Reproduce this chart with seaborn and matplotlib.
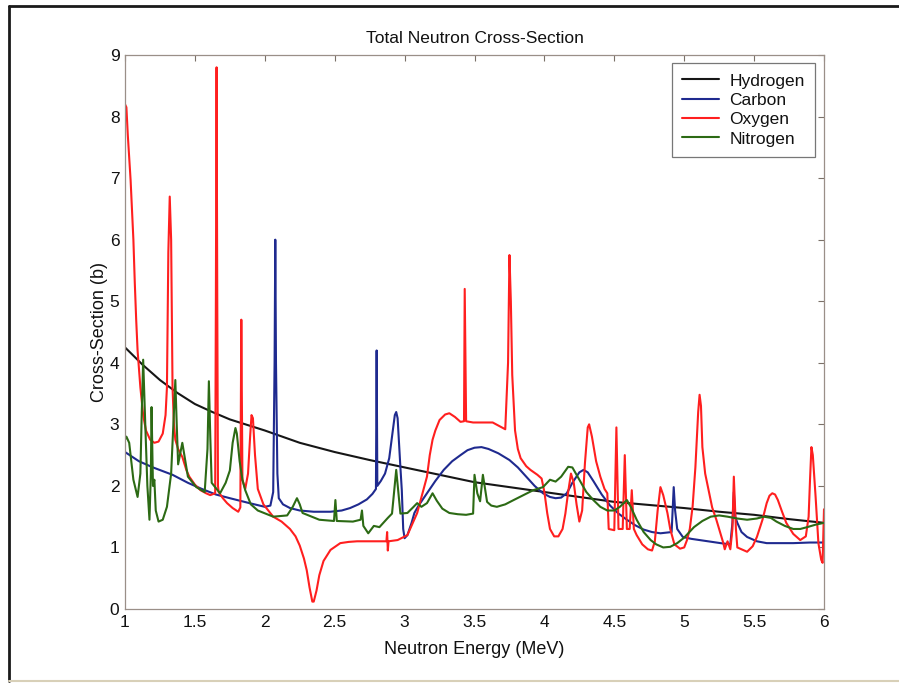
import matplotlib
matplotlib.use("Agg")
import matplotlib.pyplot as plt
from matplotlib.lines import Line2D
import numpy as np
import pandas as pd
import seaborn as sns

# ---------------- data ----------------
title = "Total Neutron Cross-Section"
x_label = "Neutron Energy (MeV)"
y_label = "Cross-Section (b)"
elements = ["Hydrogen", "Carbon", "Oxygen", "Nitrogen"]
x_ticks = [1, 1.5, 2, 2.5, 3, 3.5, 4, 4.5, 5, 5.5, 6]
x_tick_labels = ["1", "1.5", "2", "2.5", "3", "3.5", "4", "4.5", "5", "5.5", "6"]
y_ticks = [0, 1, 2, 3, 4, 5, 6, 7, 8, 9]

hydrogen_E = [1.0, 1.125, 1.25, 1.375, 1.5, 1.625, 1.75, 1.875, 2.0, 2.25, 2.5,
              2.75, 3.0, 3.25, 3.5, 3.75, 4.0, 4.25, 4.5, 4.75, 5.0, 5.25, 5.5,
              5.75, 6.0]
hydrogen_xs = [4.25, 3.97, 3.72, 3.51, 3.33, 3.2, 3.08, 2.99, 2.9, 2.7, 2.55,
               2.42, 2.3, 2.18, 2.06, 1.98, 1.9, 1.82, 1.74, 1.69, 1.64, 1.58, 1.53,
               1.46, 1.4]

carbon_E = [1.0, 1.1, 1.2, 1.34, 1.45, 1.55, 1.65, 1.75, 1.89, 2.0, 2.04, 2.06,
            2.07, 2.075, 2.08, 2.09, 2.1, 2.13, 2.18, 2.25, 2.35, 2.47, 2.55, 2.61,
            2.67, 2.73, 2.77, 2.795, 2.80, 2.805, 2.83, 2.86, 2.89, 2.91, 2.93,
            2.94, 2.95, 2.96, 2.97, 2.98, 2.99, 3.0, 3.02, 3.05, 3.07, 3.1, 3.16,
            3.22, 3.28, 3.34, 3.4, 3.45, 3.5, 3.55, 3.6, 3.67, 3.75, 3.81, 3.87,
            3.93, 3.99, 4.04, 4.08, 4.12, 4.16, 4.2, 4.25, 4.28, 4.31, 4.35, 4.41,
            4.47, 4.53, 4.59, 4.65, 4.71, 4.77, 4.83, 4.91, 4.925, 4.935, 4.95,
            4.99, 5.05, 5.11, 5.2, 5.26, 5.33, 5.345, 5.355, 5.365, 5.38, 5.41,
            5.45, 5.52, 5.59, 5.7, 5.78, 5.9, 6.0]
carbon_xs = [2.55, 2.4, 2.3, 2.18, 2.05, 1.95, 1.86, 1.8, 1.72, 1.66, 1.68, 1.9,
             4.0, 6.0, 4.0, 2.2, 1.8, 1.7, 1.64, 1.6, 1.58, 1.58, 1.6, 1.64,
             1.7, 1.78, 1.87, 1.95, 4.2, 2.0, 2.08, 2.2, 2.45, 2.8, 3.15,
             3.2, 3.1, 2.7, 2.3, 1.93, 1.3, 1.15, 1.2, 1.4, 1.56, 1.68, 1.88,
             2.08, 2.26, 2.4, 2.5, 2.58, 2.62, 2.63, 2.6, 2.53, 2.42, 2.3, 2.15,
             2.0, 1.88, 1.82, 1.8, 1.81, 1.88, 2.05, 2.22, 2.26, 2.22, 2.08, 1.86,
             1.68, 1.55, 1.45, 1.36, 1.29, 1.25, 1.23, 1.25, 1.98, 1.6, 1.3,
             1.17, 1.14, 1.12, 1.09, 1.07, 1.05, 1.4, 1.9, 1.5, 1.4, 1.25,
             1.17, 1.1, 1.07, 1.07, 1.07, 1.08, 1.08]

oxygen_E = [1.0, 1.01, 1.02, 1.04, 1.06, 1.07, 1.08, 1.09, 1.11, 1.13, 1.15, 1.18,
            1.21, 1.24, 1.27, 1.29, 1.30, 1.31, 1.32, 1.33, 1.34, 1.35, 1.36, 1.38,
            1.41, 1.44, 1.46, 1.5, 1.54, 1.58, 1.61, 1.645, 1.65, 1.655, 1.66,
            1.665, 1.67, 1.7, 1.73, 1.77, 1.81, 1.825, 1.832, 1.84, 1.86, 1.88,
            1.895, 1.905, 1.915, 1.93, 1.95, 1.99, 2.06, 2.12, 2.18, 2.22, 2.25,
            2.28, 2.3, 2.32, 2.34, 2.35, 2.37, 2.39, 2.42, 2.47, 2.54, 2.6, 2.66,
            2.87, 2.875, 2.88, 2.885, 2.95, 3.02, 3.09, 3.16, 3.18, 3.2, 3.22,
            3.25, 3.29, 3.32, 3.36, 3.4, 3.425, 3.43, 3.44, 3.49, 3.63, 3.72,
            3.74, 3.75, 3.76, 3.77, 3.79, 3.81, 3.83, 3.87, 3.9, 3.95, 3.98, 4.0,
            4.02, 4.04, 4.07, 4.1, 4.13, 4.15, 4.17, 4.19, 4.21, 4.23, 4.25, 4.27,
            4.29, 4.31, 4.32, 4.34, 4.37, 4.4, 4.43, 4.45, 4.46, 4.5, 4.515,
            4.53, 4.56, 4.575, 4.59, 4.61, 4.625, 4.64, 4.66, 4.7, 4.74, 4.77,
            4.79, 4.81, 4.83, 4.85, 4.88, 4.9, 4.93, 4.97, 5.0, 5.02, 5.04, 5.06,
            5.08, 5.1, 5.11, 5.12, 5.13, 5.15, 5.17, 5.2, 5.23, 5.26, 5.28, 5.29,
            5.31, 5.33, 5.345, 5.355, 5.37, 5.38, 5.45, 5.49, 5.52, 5.56, 5.59,
            5.61, 5.63, 5.65, 5.67, 5.7, 5.73, 5.78, 5.83, 5.87, 5.89, 5.9, 5.91,
            5.92, 5.94, 5.96, 5.98, 5.99, 6.0]
oxygen_xs = [8.2, 8.15, 7.7, 6.97, 6.0, 5.3, 4.7, 4.2, 3.6, 3.15, 2.9, 2.75,
             2.7, 2.72, 2.85, 3.15, 3.6, 5.8, 6.7, 6.0, 3.6, 3.0, 2.75, 2.6,
             2.47, 2.25, 2.15, 2.02, 1.93, 1.88, 1.85, 1.88, 5.0, 8.8, 5.0,
             2.0, 1.9, 1.8, 1.72, 1.64, 1.58, 1.65, 4.7, 2.1, 1.95, 2.2,
             2.8, 3.15, 3.1, 2.5, 1.95, 1.7, 1.5, 1.42, 1.3, 1.18, 1.03,
             0.82, 0.63, 0.35, 0.12, 0.12, 0.3, 0.55, 0.78, 0.96, 1.07, 1.09, 1.1,
             1.1, 1.25, 0.95, 1.1, 1.12, 1.2, 1.56, 2.15, 2.5, 2.75, 2.9,
             3.07, 3.16, 3.18, 3.12, 3.04, 3.05, 5.2, 3.05, 3.03, 3.03, 2.92,
             4.0, 5.75, 5.0, 3.8, 2.9, 2.6, 2.45, 2.32, 2.26, 2.18, 2.12, 1.9,
             1.56, 1.3, 1.18, 1.18, 1.3, 1.55, 1.9, 2.2, 2.05, 1.7, 1.42, 1.6,
             2.37, 2.95, 3.0, 2.8, 2.4, 2.15, 1.95, 1.88, 1.3, 1.28, 2.95,
             1.3, 1.3, 2.5, 1.3, 1.3, 1.93, 1.3, 1.2, 1.05, 0.97, 0.95,
             1.1, 1.6, 1.98, 1.85, 1.56, 1.3, 1.05, 0.98, 1.0, 1.12, 1.3, 1.66,
             2.3, 3.2, 3.48, 3.3, 2.63, 2.2, 1.98, 1.65, 1.45, 1.22, 1.07, 0.97,
             1.1, 0.97, 1.3, 2.15, 1.3, 1.0, 0.93, 1.02, 1.17, 1.45, 1.72,
             1.84, 1.88, 1.86, 1.77, 1.58, 1.4, 1.22, 1.12, 1.18, 1.5, 2.1, 2.63,
             2.5, 1.82, 1.07, 0.8, 0.75, 1.62]

nitrogen_E = [1.0, 1.01, 1.03, 1.06, 1.09, 1.11, 1.12, 1.13, 1.145, 1.16, 1.175,
              1.185, 1.19, 1.2, 1.21, 1.22, 1.24, 1.27, 1.3, 1.33, 1.35, 1.36,
              1.37, 1.38, 1.41, 1.45, 1.51, 1.57, 1.59, 1.6, 1.61, 1.62, 1.68,
              1.72, 1.75, 1.77, 1.79, 1.8, 1.82, 1.84, 1.86, 1.9, 1.95, 2.06,
              2.16, 2.2, 2.23, 2.25, 2.27, 2.39, 2.495, 2.505, 2.515, 2.63, 2.685,
              2.695, 2.705, 2.74, 2.78, 2.82, 2.88, 2.91, 2.94, 2.97, 3.02, 3.06,
              3.09, 3.12, 3.16, 3.2, 3.23, 3.27, 3.32, 3.38, 3.44, 3.49, 3.5,
              3.52, 3.54, 3.56, 3.59, 3.62, 3.66, 3.72, 3.78, 3.85, 3.92, 3.99,
              4.04, 4.08, 4.12, 4.17, 4.2, 4.25, 4.3, 4.35, 4.4, 4.45, 4.5, 4.54,
              4.59, 4.62, 4.66, 4.71, 4.76, 4.8, 4.85, 4.9, 4.95, 5.0, 5.07, 5.13,
              5.19, 5.25, 5.31, 5.38, 5.45, 5.52, 5.57, 5.62, 5.66, 5.72, 5.78,
              5.83, 5.88, 5.94, 6.0]
nitrogen_xs = [2.75, 2.8, 2.7, 2.1, 1.82, 2.2, 3.2, 4.05, 3.0, 2.0, 1.45,
               2.2, 3.28, 2.0, 2.1, 1.6, 1.42, 1.45, 1.66, 2.2, 3.2, 3.72,
               3.0, 2.35, 2.7, 2.15, 1.98, 1.9, 2.6, 3.7, 2.8, 2.05, 1.88,
               2.05, 2.25, 2.7, 2.94, 2.85, 2.4, 2.1, 1.93, 1.7, 1.6, 1.5,
               1.52, 1.66, 1.8, 1.7, 1.56, 1.45, 1.43, 1.77, 1.43, 1.42, 1.45,
               1.6, 1.35, 1.23, 1.35, 1.33, 1.48, 1.55, 2.26, 1.55, 1.56, 1.65,
               1.72, 1.66, 1.72, 1.88, 1.76, 1.63, 1.56, 1.54, 1.53, 1.55, 2.18,
               1.88, 1.75, 2.18, 1.74, 1.68, 1.66, 1.7, 1.77, 1.85, 1.93, 1.98,
               2.1, 2.07, 2.15, 2.31, 2.3, 2.1, 1.9, 1.77, 1.66, 1.6, 1.6, 1.66,
               1.77, 1.65, 1.45, 1.25, 1.12, 1.05, 1.0, 1.01, 1.07, 1.16, 1.33, 1.43,
               1.5, 1.52, 1.5, 1.47, 1.45, 1.47, 1.5, 1.48, 1.42, 1.35, 1.3,
               1.3, 1.33, 1.37, 1.4]

colors = {"Hydrogen": "#161616", "Carbon": "#1f2a8f",
          "Oxygen": "#ff1f1f", "Nitrogen": "#2c6a14"}

# ---------------- build long table ----------------
series = {"Hydrogen": (hydrogen_E, hydrogen_xs), "Carbon": (carbon_E, carbon_xs),
          "Oxygen": (oxygen_E, oxygen_xs), "Nitrogen": (nitrogen_E, nitrogen_xs)}
frames = []
for name in elements:
    e, s = series[name]
    frames.append(pd.DataFrame({"E": e, "sigma": s, "element": name}))
df = pd.concat(frames, ignore_index=True)

# ---------------- styling ----------------
sns.set_theme(style="white")
plt.rcParams['font.family'] = ['Liberation Sans', 'DejaVu Sans']
plt.rcParams['xtick.direction'] = 'in'
plt.rcParams['ytick.direction'] = 'in'

W, H = 899, 683
fig = plt.figure(figsize=(W / 100, H / 100), dpi=100)
ax = fig.add_axes([125 / W, (H - 609) / H, (824 - 125) / W, (609 - 55) / H])

sns.lineplot(data=df, x="E", y="sigma", hue="element", hue_order=elements,
             palette=colors, estimator=None, sort=False, linewidth=1.5, ax=ax)

ax.set_xlim(1, 6)
ax.set_ylim(0, 9)
ax.set_xticks(x_ticks)
ax.set_xticklabels(x_tick_labels)
ax.set_yticks(y_ticks)
ax.tick_params(axis='both', which='major', direction='in', length=4, width=0.8,
               color='#7a7068', labelsize=12.5, labelcolor='#111111', pad=4,
               top=True, right=True)
for sp in ax.spines.values():
    sp.set_color('#9a8f88')
    sp.set_linewidth(0.9)

ax.set_title(title, fontsize=12.5, color='#111111', pad=9)
ax.set_xlabel(x_label, fontsize=13, color='#111111', labelpad=8)
ax.set_ylabel(y_label, fontsize=13, color='#111111', labelpad=1)

handles, labels = ax.get_legend_handles_labels()
leg = ax.legend(handles, labels, loc='upper right',
                bbox_to_anchor=((815 - 125) / 699, (609 - 63) / 554),
                borderaxespad=0, frameon=True, fancybox=False, shadow=False,
                edgecolor='#555555', fontsize=12.5, handlelength=2.1,
                handletextpad=0.6, labelspacing=0.24, borderpad=0.6)
leg.get_frame().set_linewidth(0.9)
for t in leg.get_texts():
    t.set_color('#111111')

# outer frame of the scanned figure
fig.add_artist(Line2D([9 / W, 9 / W], [1 - 6 / H, 1 - 681 / H],
                      transform=fig.transFigure, color='#1a1a1a', lw=2))
fig.add_artist(Line2D([9 / W, 1.0], [1 - 6 / H, 1 - 6 / H],
                      transform=fig.transFigure, color='#1a1a1a', lw=2))
fig.add_artist(Line2D([9 / W, 1.0], [1 - 681 / H, 1 - 681 / H],
                      transform=fig.transFigure, color='#d8d0b8', lw=1.5))

fig.savefig("out.png", dpi=100)
